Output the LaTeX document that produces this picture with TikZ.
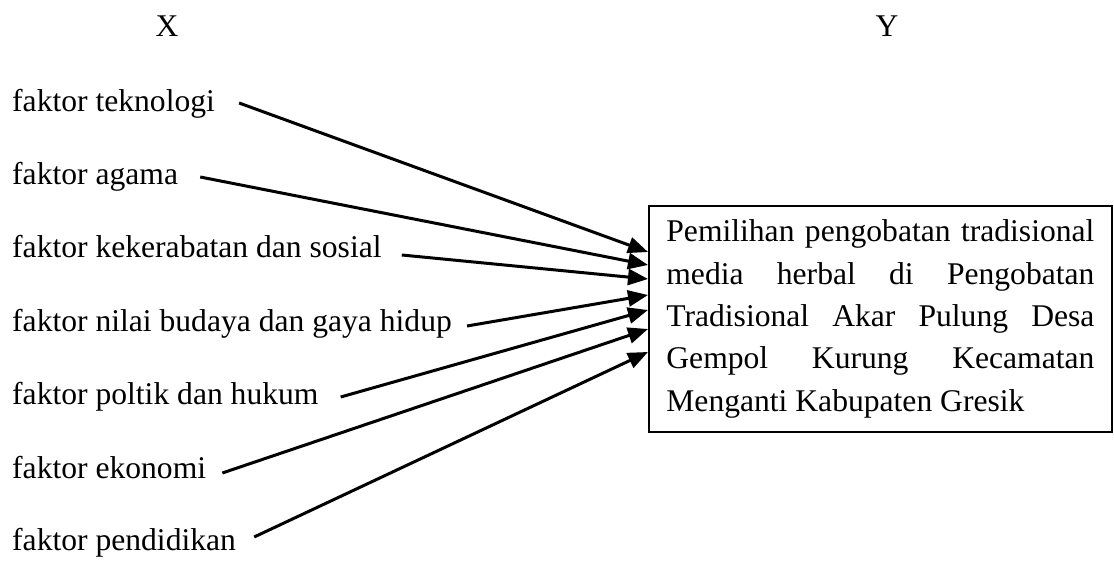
\documentclass[tikz,border=0pt]{standalone}
\usepackage{fontspec}
\setmainfont{Liberation Serif}
\usetikzlibrary{arrows.meta,calc}

\begin{document}
\begin{tikzpicture}[x=1pt,y=-1pt,
  every node/.style={font=\fontsize{31.6}{42.3}\selectfont, inner sep=0pt},
  factor/.style={anchor=base west},
  arr/.style={line width=3pt, -{Triangle[length=20pt,width=16pt]}},
  target/.style={draw, line width=1.8pt, anchor=north west,
    minimum width=463pt, minimum height=226pt,
    text width=428pt, align=justify, inner xsep=17pt}]
  \useasboundingbox (0,0) rectangle (1114,561);

  % column headings
  \node[anchor=base] (hx) at (167,37) {X};
  \node[anchor=base] (hy) at (887,37) {Y};

  % independent factors
  \node[factor] (t1) at (12,112) {faktor teknologi};
  \node[factor] (t2) at (12,185) {faktor agama};
  \node[factor] (t3) at (12,258) {faktor kekerabatan dan sosial};
  \node[factor] (t4) at (12,331) {faktor nilai budaya dan gaya hidup};
  \node[factor] (t5) at (12,404) {faktor poltik dan hukum};
  \node[factor] (t6) at (12,478) {faktor ekonomi};
  \node[factor] (t7) at (12,550) {faktor pendidikan};

  % dependent variable, one justified line per row, no hyphenation
  \node[target] (box) at (648,205) {\hyphenpenalty=10000
    Pemilihan pengobatan tradisional\linebreak
    media herbal di Pengobatan\linebreak
    Tradisional Akar Pulung Desa\linebreak
    Gempol Kurung Kecamatan\linebreak
    Menganti Kabupaten Gresik};

  % arrow start points, just after each label
  \coordinate (s1) at ($(t1.base east)+(24,-9)$);
  \coordinate (s2) at ($(t2.base east)+(22,-8)$);
  \coordinate (s3) at ($(t3.base east)+(20,-3)$);
  \coordinate (s4) at ($(t4.base east)+(15,-5)$);
  \coordinate (s5) at ($(t5.base east)+(22,-7)$);
  \coordinate (s6) at ($(t6.base east)+(16,-5)$);
  \coordinate (s7) at ($(t7.base east)+(18,-13)$);

  % arrow tips on the left edge of the box
  \coordinate (e1) at ($(box.north west)+(0,47)$);
  \coordinate (e2) at ($(box.north west)+(0,60)$);
  \coordinate (e3) at ($(box.north west)+(0,74)$);
  \coordinate (e4) at ($(box.north west)+(0,90)$);
  \coordinate (e5) at ($(box.north west)+(0,105)$);
  \coordinate (e6) at ($(box.north west)+(0,124)$);
  \coordinate (e7) at ($(box.north west)+(0,147)$);

  \foreach \i in {1,...,7} {
    \draw[arr] (s\i) -- (e\i);
  }
\end{tikzpicture}
\end{document}
